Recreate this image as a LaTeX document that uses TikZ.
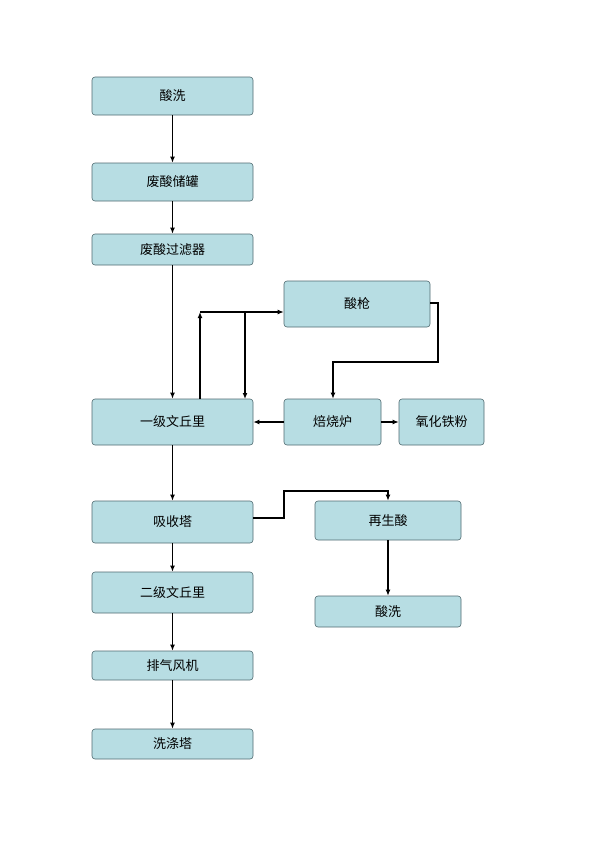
\documentclass[tikz,border=0pt]{standalone}
\usepackage{fontspec}
\setmainfont{Noto Sans CJK SC}
\usetikzlibrary{arrows.meta}
\definecolor{boxfill}{HTML}{B7DDE3}
\definecolor{boxdraw}{HTML}{4F6A70}
\begin{document}
\begin{tikzpicture}[x=1pt,y=-1pt,
  bx/.style={draw=boxdraw,fill=boxfill,rounded corners=3pt,line width=0.6pt,inner sep=0pt,font=\fontsize{13}{13}\selectfont},
  ar/.style={line width=1.2pt,-{Latex[length=6pt,width=5pt]}}]
\useasboundingbox (0,0) rectangle (600,849);
\newcommand\bxat[6]{\node[bx,minimum width=#4-#2,minimum height=#5-#3] (#1) at ({(#2+#4)/2},{(#3+#5)/2}) {#6};}
\bxat{a}{92}{77}{253}{115}{酸洗}
\bxat{b}{92}{163}{253}{201}{废酸储罐}
\bxat{c}{92}{234}{253}{265}{废酸过滤器}
\bxat{q}{284}{281}{430}{327}{酸枪}
\bxat{d}{92}{399}{253}{445}{一级文丘里}
\bxat{f}{284}{399}{381}{445}{焙烧炉}
\bxat{o}{399}{399}{484}{445}{氧化铁粉}
\bxat{e}{92}{501}{253}{543}{吸收塔}
\bxat{r}{315}{501}{461}{540}{再生酸}
\bxat{g}{92}{572}{253}{613}{二级文丘里}
\bxat{s}{315}{596}{461}{627}{酸洗}
\bxat{h}{92}{651}{253}{680}{排气风机}
\bxat{i}{92}{729}{253}{759}{洗涤塔}
\draw[ar] (a) -- (b);
\draw[ar] (b) -- (c);
\draw[ar] (c) -- (d);
\draw[ar] (d) -- (e);
\draw[ar] (e) -- (g);
\draw[ar] (g) -- (h);
\draw[ar] (h) -- (i);
\coordinate (u1) at (200,399);
\coordinate (u2) at (200,312);
\coordinate (u3) at (245,312);
\coordinate (u4) at (245,399);
\draw[ar] (u1) -- (u2);
\draw[ar] (u2) -- (q.west|-u2);
\draw[ar] (u3) -- (u4);
\draw[ar] (q.east|-0,303) -- (438,303) -- (438,362) -- (333,362) -- (f.north-|333,0);
\draw[ar] (f) -- (d);
\draw[ar] (f) -- (o);
\draw[ar] (e.east|-0,518) -- (284,518) -- (284,491) -- (388,491) -- (r.north-|388,0);
\draw[ar] (r.south-|388,0) -- (s.north-|388,0);
\end{tikzpicture}
\end{document}
